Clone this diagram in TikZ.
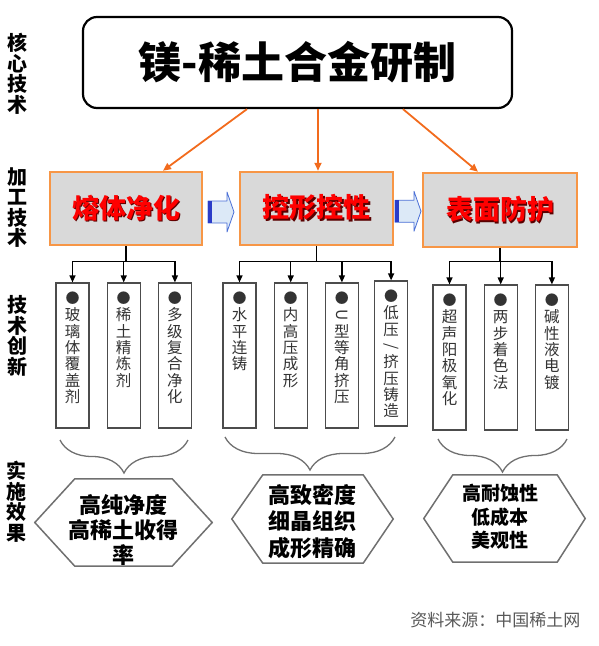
\documentclass[tikz,border=0pt]{standalone}
\usepackage{fontspec}
\setmainfont{Noto Sans CJK SC}
\usepackage{tikz}
\usetikzlibrary{arrows.meta, positioning, calc, decorations.pathreplacing}

\definecolor{boxorange}{HTML}{F79646}
\definecolor{arroworange}{HTML}{F26B1D}
\definecolor{boxgray}{HTML}{D9D9D9}
\definecolor{blockfill}{HTML}{DCE9F7}
\definecolor{blockline}{HTML}{4A6FD6}
\definecolor{blockbar}{HTML}{2B3CC8}
\definecolor{linegray}{HTML}{707070}

% red heading text with a dark drop shadow
\newcommand{\shadowred}[1]{\makebox[0pt][l]{\hspace{1.6pt}\raisebox{-1.6pt}{\color{red!35!black}#1}}{\color{red}#1}}
% vertical column of characters, top aligned under the bullet
\newcommand{\vcol}[1]{\parbox[c][141pt][t]{30pt}{\centering\vspace*{7pt}{\fontsize{14}{14}\selectfont ●}\\[1pt]#1\par}}
% latin glyph turned as in vertical writing
\newcommand{\turned}[1]{\rotatebox[origin=c]{-90}{#1}}

\begin{document}
\begin{tikzpicture}[
    x=1pt, y=-1pt,
    side/.style={font=\fontsize{20}{20.5}\selectfont\bfseries, align=center, inner sep=0pt},
    core/.style={rectangle, draw, rounded corners=14pt, line width=2.2pt, minimum width=429pt, minimum height=91pt, font=\fontsize{43}{43}\selectfont\bfseries},
    proc/.style={rectangle, draw=boxorange, fill=boxgray, line width=2.5pt, minimum width=152pt, minimum height=73pt, font=\fontsize{27}{27}\selectfont\bfseries},
    item/.style={rectangle, draw=black!70, line width=1.2pt, minimum width=33pt, minimum height=145pt, inner sep=0pt, font=\fontsize{15.5}{16.3}\selectfont, text=black!80},
    effect/.style={minimum height=87pt, inner sep=0pt},
    result/.style={align=center, inner sep=0pt, font=\fontsize{22}{25}\selectfont\bfseries},
    oarrow/.style={-{Triangle[length=8pt, width=7pt]}, draw=arroworange, line width=1.8pt},
    tline/.style={line width=1.3pt},
    tarrow/.style={-{Triangle[length=7pt, width=6pt]}, line width=1.3pt},
    brace/.style={decorate, decoration={brace, mirror, amplitude=33pt}, draw=linegray, line width=1.3pt},
    hexline/.style={draw=linegray, line width=1.5pt},
]
    \useasboundingbox (0,0) rectangle (598,646);

    % row labels
    \node[side] (l1) at (18,74) {核\\心\\技\\术};
    \node[side] (l2) at (18,207.5) {加\\工\\技\\术};
    \node[side] (l3) at (18,336) {技\\术\\创\\新};
    \node[side] (l4) at (16,501.5) {实\\施\\效\\果};

    % core technology
    \node[core] (core) at (297.5,62.5) {镁-稀土合金研制};

    % processing technology
    \node[proc] (m1) at (126,208.5) {\shadowred{熔体净化}};
    \node[proc, minimum width=153pt] (m2) at (316.5,208.5) {\shadowred{控形控性}};
    \node[proc, minimum width=154pt, minimum height=74pt] (m3) at (500,210) {\shadowred{表面防护}};

    \draw[oarrow] ([xshift=-50.5pt]core.south) -- ([xshift=37pt]m1.north);
    \draw[oarrow] ([xshift=20.5pt]core.south) -- ([xshift=20.5pt]core.south |- m2.north);
    \draw[oarrow] ([xshift=105.5pt]core.south) -- ([xshift=-22pt]m3.north);

    % block arrows between the stages
    \coordinate (p1) at ($(m1.east)!0.5!(m2.west)+(0,3.5)$);
    \coordinate (p2) at ($(m2.east)!0.5!(m3.west)+(0,2)$);
    \filldraw[draw=blockline, fill=blockfill, line width=0.8pt, line join=round]
        ($(p1)+(-13,-11)$) -- ($(p1)+(6,-11)$) -- ($(p1)+(6,-20)$) -- ($(p1)+(13,0)$)
        -- ($(p1)+(6,20)$) -- ($(p1)+(6,11)$) -- ($(p1)+(-13,11)$) -- cycle;
    \fill[blockbar] ($(p1)+(-13,-11)$) rectangle ($(p1)+(-9,11)$);
    \filldraw[draw=blockline, fill=blockfill, line width=0.8pt, line join=round]
        ($(p2)+(-13,-11)$) -- ($(p2)+(6,-11)$) -- ($(p2)+(6,-20)$) -- ($(p2)+(13,0)$)
        -- ($(p2)+(6,20)$) -- ($(p2)+(6,11)$) -- ($(p2)+(-13,11)$) -- cycle;
    \fill[blockbar] ($(p2)+(-13,-11)$) rectangle ($(p2)+(-9,11)$);

    % technical innovation
    \node[item] (a1) at (72.5,355.5) {\vcol{玻\\璃\\体\\覆\\盖\\剂}};
    \node[item, right=17pt of a1] (a2) {\vcol{稀\\土\\精\\炼\\剂}};
    \node[item, right=17pt of a2] (a3) {\vcol{多\\级\\复\\合\\净\\化}};

    \node[item] (b1) at (239.5,355.5) {\vcol{水\\平\\连\\铸}};
    \node[item, right=17pt of b1] (b2) {\vcol{内\\高\\压\\成\\形}};
    \node[item, right=17pt of b2] (b3) {\vcol{\turned{U}\\型\\等\\角\\挤\\压}};
    \node[item, right=15pt of b3, yshift=2pt] (b4) {\vcol{低\\压\\\turned{/}\\挤\\压\\铸\\造}};

    \node[item] (c1) at (449.5,357.5) {\vcol{超\\声\\阳\\极\\氧\\化}};
    \node[item, right=17pt of c1] (c2) {\vcol{两\\步\\着\\色\\法}};
    \node[item, right=17pt of c2] (c3) {\vcol{碱\\性\\液\\电\\镀}};

    \coordinate (j1) at ([yshift=-15pt]m1.south);
    \coordinate (j2) at ([yshift=-15pt]m2.south);
    \coordinate (j3) at ([yshift=-13pt]m3.south);

    \draw[tline] (m1.south) -- (j1);
    \draw[tline] (j1 -| a1) -- (j1 -| a3);
    \draw[tarrow] (j1 -| a1) -- (a1.north);
    \draw[tarrow] (j1 -| a2) -- (a2.north);
    \draw[tarrow] (j1 -| a3) -- (a3.north);

    \draw[tline] (m2.south) -- (j2);
    \draw[tline] (j2 -| b1) -- (j2 -| b4);
    \draw[tarrow] (j2 -| b1) -- (b1.north);
    \draw[tarrow] (j2 -| b2) -- (b2.north);
    \draw[tarrow] (j2 -| b3) -- (b3.north);
    \draw[tarrow] (j2 -| b4) -- (b4.north);

    \draw[tline] (m3.south) -- (j3);
    \draw[tline] (j3 -| c1) -- (j3 -| c3);
    \draw[tarrow] (j3 -| c1) -- (c1.north);
    \draw[tarrow] (j3 -| c2) -- (c2.north);
    \draw[tarrow] (j3 -| c3) -- (c3.north);

    % implementation effect
    \draw[brace] (60,440) -- (188,440);
    \draw[brace] (225,437) -- (395,437);
    \draw[brace] (438,439) -- (567,439);

    \node[effect, minimum width=177pt] (h1) at (123.5,522.5) {};
    \node[effect, minimum width=161pt, minimum height=88pt] (h2) at (312.5,519) {};
    \node[effect, minimum width=161pt] (h3) at (504.5,518.5) {};

    \draw[hexline] (h1.west) -- ([xshift=40pt]h1.north west) -- ([xshift=-40pt]h1.north east) -- (h1.east)
        -- ([xshift=-40pt]h1.south east) -- ([xshift=40pt]h1.south west) -- cycle;
    \draw[hexline] (h2.west) -- ([xshift=31pt]h2.north west) -- ([xshift=-30pt]h2.north east) -- (h2.east)
        -- ([xshift=-30pt]h2.south east) -- ([xshift=31pt]h2.south west) -- cycle;
    \draw[hexline] (h3.west) -- ([xshift=29pt]h3.north west) -- ([xshift=-28pt]h3.north east) -- (h3.east)
        -- ([xshift=-28pt]h3.south east) -- ([xshift=29pt]h3.south west) -- cycle;

    \node[result] (r1) at (123,530) {高纯净度\\高稀土收得\\率};
    \node[result, font=\fontsize{22}{26.5}\selectfont\bfseries] (r2) at (312,521.5) {高致密度\\细晶组织\\成形精确};
    \node[result, font=\fontsize{19}{23.5}\selectfont\bfseries] (r3) at (500,517) {高耐蚀性\\低成本\\美观性};

    % source
    \node[anchor=east, text=black!65, font=\fontsize{17}{17}\selectfont] (src) at (584,620) {资料来源：中国稀土网};
\end{tikzpicture}
\end{document}
